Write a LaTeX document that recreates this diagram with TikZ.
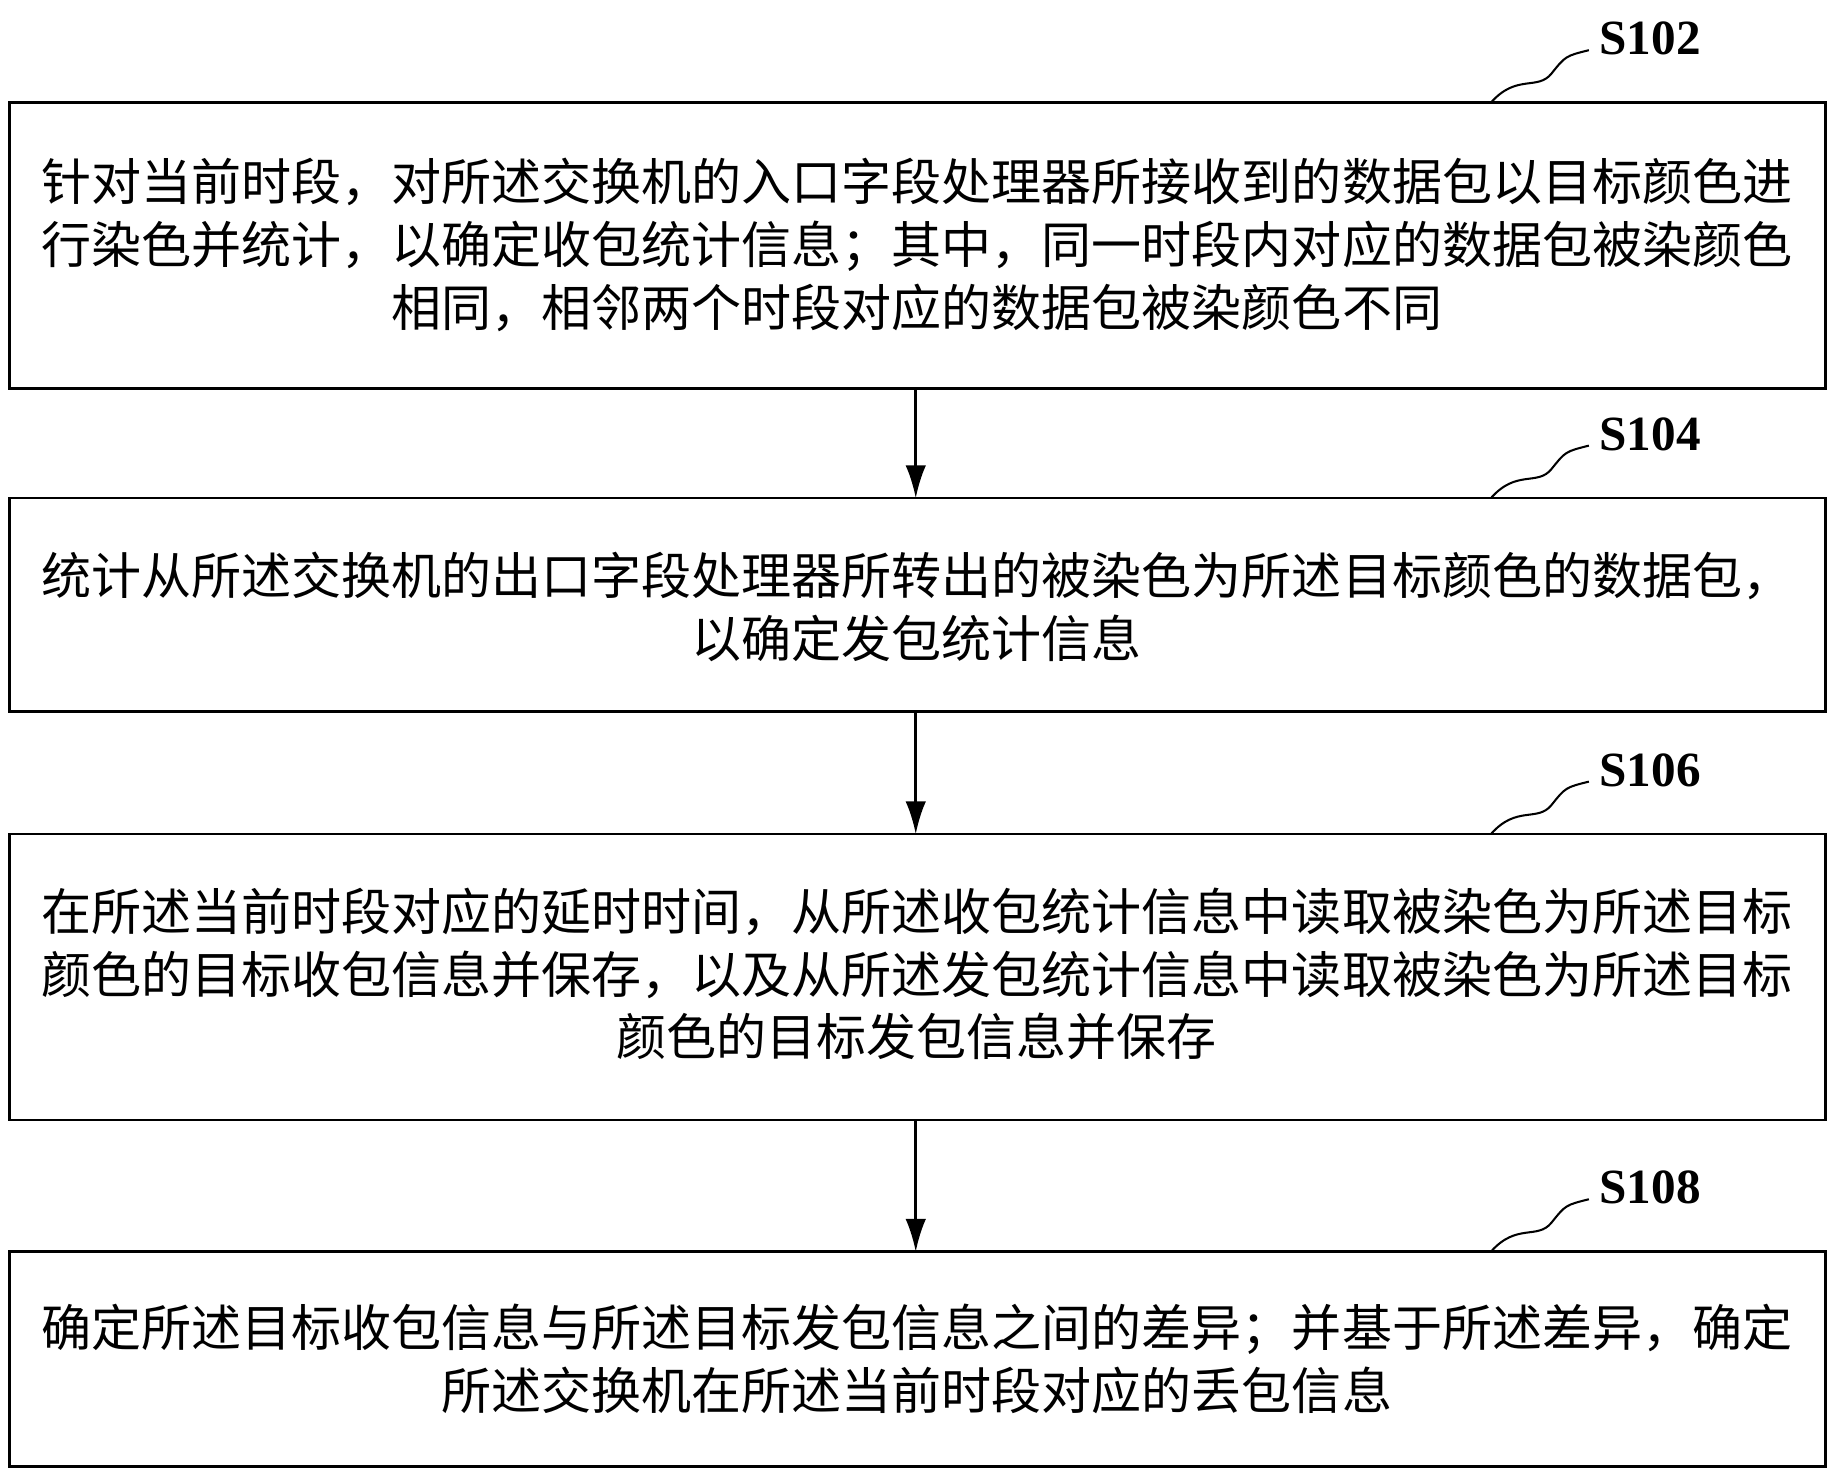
\documentclass[tikz,border=0pt]{standalone}
\usepackage{fontspec}
\setmainfont{Liberation Serif}
\newfontfamily\cjk{Noto Sans CJK SC}
\usetikzlibrary{arrows.meta}
\begin{document}
\begin{tikzpicture}[x=0.02cm,y=-0.02cm,
  box/.style={draw,line width=1.3pt,inner sep=0pt},
  txt/.style={font=\cjk\fontsize{24.4pt}{30.6pt}\selectfont,align=center},
  lab/.style={font=\bfseries\fontsize{24pt}{28pt}\selectfont,anchor=west},
  arr/.style={-{Latex[length=16pt,width=10pt]},line width=1.3pt}]
\useasboundingbox (0,0) rectangle (1567,1262);
\draw[box] (8,88) rectangle (1565,333);
\node[txt] (t1) at (786,210) {针对当前时段，对所述交换机的入口字段处理器所接收到的数据包以目标颜色进\\行染色并统计，以确定收包统计信息；其中，同一时段内对应的数据包被染颜色\\相同，相邻两个时段对应的数据包被染颜色不同\hspace{7.6em}};
\draw[box] (8,427) rectangle (1565,610);
\node[txt] (t2) at (786,520) {统计从所述交换机的出口字段处理器所转出的被染色为所述目标颜色的数据包，\\以确定发包统计信息};
\draw[box] (8,715) rectangle (1565,960);
\node[txt] (t3) at (786,835) {在所述当前时段对应的延时时间，从所述收包统计信息中读取被染色为所述目标\\颜色的目标收包信息并保存，以及从所述发包统计信息中读取被染色为所述目标\\颜色的目标发包信息并保存};
\draw[box] (8,1073) rectangle (1565,1257);
\node[txt] (t4) at (786,1165) {确定所述目标收包信息与所述目标发包信息之间的差异；并基于所述差异，确定\\所述交换机在所述当前时段对应的丢包信息};
\coordinate (a1) at (785,333); \coordinate (b1) at (785,427);
\coordinate (a2) at (785,610); \coordinate (b2) at (785,715);
\coordinate (a3) at (785,960); \coordinate (b3) at (785,1073);
\draw[arr] (a1) -- (b1);
\draw[arr] (a2) -- (b2);
\draw[arr] (a3) -- (b3);
\foreach \y/\s in {88/S102,427/S104,715/S106,1073/S108}{
  \draw[line width=1pt] (1278,\y) .. controls (1300,\y-25) and (1318,\y-10) .. (1330,\y-25) .. controls (1342,\y-40) .. (1362,\y-45);
  \node[lab] at (1365,\y-55) {\s};
}
\end{tikzpicture}
\end{document}
